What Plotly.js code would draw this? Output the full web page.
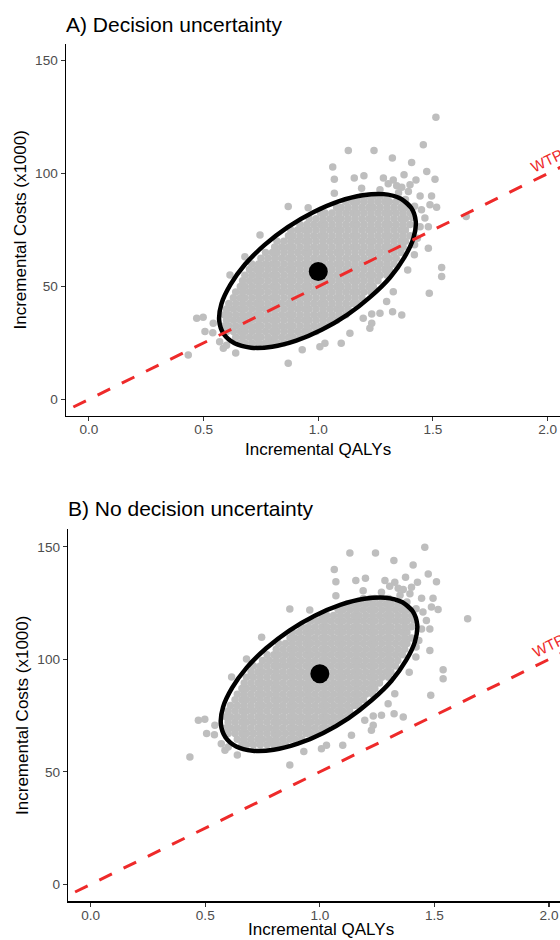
<!DOCTYPE html>
<html><head><meta charset="utf-8">
<script src="https://cdn.plot.ly/plotly-3.0.1.min.js"></script>
<style>html,body{margin:0;padding:0;overflow:hidden;background:#fff}#chart{width:578px;height:950px}</style>
</head><body><div id="chart"></div>
<script>
const panelTitles = ["A) Decision uncertainty", "B) No decision uncertainty"];
const xAxisTitle = "Incremental QALYs";
const yAxisTitle = "Incremental Costs (x1000)";
const xTickVals = [0, 0.5, 1, 1.5, 2];
const xTickText = ["0.0", "0.5", "1.0", "1.5", "2.0"];
const yTickVals = [0, 50, 100, 150];
const wtpLabel = "WTP";
const wtpLineQalys = [-0.068, 2.2];
const wtpLineCosts = [-3.4, 110.0];

// scattered simulations (outside the dense core)
const outlierQalysA = [1.513,1.458,1.131,1.243,1.323,1.063,1.407,1.473,1.070,1.199,1.157,1.284,1.327,1.374,1.342,1.426,1.509,1.070,1.189,1.269,1.393,1.444,1.494,1.487,1.516,0.869,0.956,1.465,1.444,1.480,0.746,1.432,1.480,1.419,0.680,1.390,1.538,1.538,0.615,1.484,1.327,1.298,1.269,1.233,1.233,1.196,1.324,1.364,0.470,0.498,0.506,0.542,0.433,0.869,0.586,1.007,1.029,1.100,0.789,1.138,1.225,1.305,1.364,1.400,1.645,1.42,1.45,1.41,1.38,1.35,1.42,0.54,0.57,0.60,0.64,0.93];
const outlierCostsA = [125.0,112.8,110.2,110.2,106.9,102.9,104.9,100.9,97.5,99.0,98.0,98.0,97.2,99.5,94.6,97.2,97.5,91.3,93.5,92.8,92.1,90.1,90.1,86.2,85.1,85.4,84.9,80.3,76.5,76.5,72.8,71.4,66.9,64.0,63.2,57.3,58.4,54.4,55.1,47.0,47.7,43.3,38.1,37.8,33.7,35.9,38.8,37.4,35.9,36.4,30.0,33.7,19.6,16.0,22.6,23.3,24.8,24.8,26.3,29.3,31.5,95.5,94.0,95.0,81.0,85.5,84.0,80.5,88.5,91.5,68.5,29.5,25.5,24.0,20.5,22.0];
const outlierQalysB = [1.458,1.131,1.243,1.323,1.063,1.407,1.473,1.070,1.199,1.157,1.284,1.327,1.374,1.342,1.426,1.509,1.070,1.189,1.269,1.393,1.444,1.494,1.487,1.516,0.869,0.956,1.465,1.444,1.480,0.746,1.432,1.480,1.419,0.680,1.390,1.538,1.538,0.615,1.484,1.327,1.298,1.269,1.233,1.233,1.196,1.324,1.364,0.470,0.498,0.506,0.542,0.433,0.869,0.586,1.007,1.029,1.100,0.789,1.138,1.225,1.305,1.364,1.400,1.645,1.42,1.45,1.41,1.38,1.35,1.42,0.54,0.57,0.60,0.64,0.93];
const outlierCostsB = [149.8,147.2,147.2,143.9,139.9,141.9,137.9,134.5,136.0,135.0,135.0,134.2,136.5,131.6,134.2,134.5,128.3,130.5,129.8,129.1,127.1,127.1,123.2,122.1,122.4,121.9,117.3,113.5,113.5,109.8,108.4,103.9,101.0,100.2,94.3,95.4,91.4,92.1,84.0,84.7,80.3,75.1,74.8,70.7,72.9,75.8,74.4,72.9,73.4,67.0,70.7,56.6,53.0,59.6,60.3,61.8,61.8,63.3,66.3,68.5,132.5,131.0,132.0,118.0,122.5,121.0,117.5,125.5,128.5,105.5,66.5,62.5,61.0,57.5,59.0];

// dense core of simulations, read row by row (QALY positions per cost row)
const coreRowQalys = [
[0.66,0.68,0.71,0.74,0.77,0.80,0.82,0.85],
[0.64,0.67,0.70,0.73,0.75,0.78,0.81,0.84,0.87,0.89,0.92],
[0.60,0.63,0.66,0.68,0.71,0.74,0.77,0.80,0.82,0.85,0.88,0.91,0.94,0.96,0.99],
[0.59,0.61,0.64,0.67,0.70,0.73,0.75,0.78,0.81,0.84,0.87,0.89,0.92,0.95,0.98,1.01,1.03],
[0.60,0.63,0.66,0.68,0.71,0.74,0.77,0.80,0.82,0.85,0.88,0.91,0.94,0.96,0.99,1.02,1.05,1.08],
[0.59,0.61,0.64,0.67,0.70,0.73,0.75,0.78,0.81,0.84,0.87,0.89,0.92,0.95,0.98,1.01,1.03,1.06,1.09,1.12],
[0.60,0.63,0.66,0.68,0.71,0.74,0.77,0.80,0.82,0.85,0.88,0.91,0.94,0.96,0.99,1.02,1.05,1.08,1.10,1.13],
[0.61,0.64,0.67,0.70,0.73,0.75,0.78,0.81,0.84,0.87,0.89,0.92,0.95,0.98,1.01,1.03,1.06,1.09,1.12,1.15,1.17],
[0.63,0.66,0.68,0.71,0.74,0.77,0.80,0.82,0.85,0.88,0.91,0.94,0.96,0.99,1.02,1.05,1.08,1.10,1.13,1.16,1.19],
[0.64,0.67,0.70,0.73,0.75,0.78,0.81,0.84,0.87,0.89,0.92,0.95,0.98,1.01,1.03,1.06,1.09,1.12,1.15,1.17,1.20,1.23],
[0.66,0.68,0.71,0.74,0.77,0.80,0.82,0.85,0.88,0.91,0.94,0.96,0.99,1.02,1.05,1.08,1.10,1.13,1.16,1.19,1.22,1.24],
[0.67,0.70,0.73,0.75,0.78,0.81,0.84,0.87,0.89,0.92,0.95,0.98,1.01,1.03,1.06,1.09,1.12,1.15,1.17,1.20,1.23,1.26],
[0.68,0.71,0.74,0.77,0.80,0.82,0.85,0.88,0.91,0.94,0.96,0.99,1.02,1.05,1.08,1.10,1.13,1.16,1.19,1.22,1.24,1.27,1.30],
[0.70,0.73,0.75,0.78,0.81,0.84,0.87,0.89,0.92,0.95,0.98,1.01,1.03,1.06,1.09,1.12,1.15,1.17,1.20,1.23,1.26,1.29,1.31],
[0.71,0.74,0.77,0.80,0.82,0.85,0.88,0.91,0.94,0.96,0.99,1.02,1.05,1.08,1.10,1.13,1.16,1.19,1.22,1.24,1.27,1.30,1.33],
[0.75,0.78,0.81,0.84,0.87,0.89,0.92,0.95,0.98,1.01,1.03,1.06,1.09,1.12,1.15,1.17,1.20,1.23,1.26,1.29,1.31,1.34],
[0.77,0.80,0.82,0.85,0.88,0.91,0.94,0.96,0.99,1.02,1.05,1.08,1.10,1.13,1.16,1.19,1.22,1.24,1.27,1.30,1.33,1.36],
[0.81,0.84,0.87,0.89,0.92,0.95,0.98,1.01,1.03,1.06,1.09,1.12,1.15,1.17,1.20,1.23,1.26,1.29,1.31,1.34,1.37],
[0.82,0.85,0.88,0.91,0.94,0.96,0.99,1.02,1.05,1.08,1.10,1.13,1.16,1.19,1.22,1.24,1.27,1.30,1.33,1.36,1.38],
[0.87,0.89,0.92,0.95,0.98,1.01,1.03,1.06,1.09,1.12,1.15,1.17,1.20,1.23,1.26,1.29,1.31,1.34,1.37,1.40],
[0.88,0.91,0.94,0.96,0.99,1.02,1.05,1.08,1.10,1.13,1.16,1.19,1.22,1.24,1.27,1.30,1.33,1.36,1.38],
[0.92,0.95,0.98,1.01,1.03,1.06,1.09,1.12,1.15,1.17,1.20,1.23,1.26,1.29,1.31,1.34,1.37,1.40],
[0.96,0.99,1.02,1.05,1.08,1.10,1.13,1.16,1.19,1.22,1.24,1.27,1.30,1.33,1.36,1.38],
[1.01,1.03,1.06,1.09,1.12,1.15,1.17,1.20,1.23,1.26,1.29,1.31,1.34,1.37,1.40],
[1.08,1.10,1.13,1.16,1.19,1.22,1.24,1.27,1.30,1.33,1.36,1.38],
[1.12,1.15,1.17,1.20,1.23,1.26,1.29,1.31,1.34,1.37],
[1.19,1.22,1.24,1.27,1.30]
];
const coreRowCostsA = [25,27.5,30,32.5,35,37.5,40,42.5,45,47.5,50,52.5,55,57.5,60,62.5,65,67.5,70,72.5,75,77.5,80,82.5,85,87.5,90];
const coreRowCostsB = [62,64.5,67,69.5,72,74.5,77,79.5,82,84.5,87,89.5,92,94.5,97,99.5,102,104.5,107,109.5,112,114.5,117,119.5,122,124.5,127];

// 95% ellipse outline points and mean
const ellipseQalysA = [1.405,1.358,1.286,1.194,1.089,0.978,0.867,0.766,0.680,0.617,0.578,0.568,0.588,0.635,0.707,0.799,0.904,1.015,1.126,1.227,1.313,1.376,1.415,1.425];
const ellipseCostsA = [84.9,89.0,90.9,90.4,87.7,82.9,76.3,68.4,59.7,50.8,42.4,34.9,28.9,24.8,22.9,23.3,26.0,30.8,37.4,45.4,54.0,63.0,71.4,78.9];
const ellipseQalysB = [1.405,1.358,1.286,1.194,1.089,0.978,0.867,0.766,0.680,0.617,0.578,0.568,0.588,0.635,0.707,0.799,0.904,1.015,1.126,1.227,1.313,1.376,1.415,1.425];
const ellipseCostsB = [121.4,125.5,127.4,126.9,124.2,119.4,112.8,104.9,96.2,87.3,78.9,71.4,65.4,61.3,59.4,59.8,62.5,67.3,73.9,81.9,90.5,99.5,107.9,115.4];
const meanQalys = [1.0, 1.0];
const meanCosts = [56.6, 93.6];

const FONT = '"Liberation Sans", Arial, sans-serif';
const GREY = '#BEBEBE';
const RED = '#EE2A2A';

function cloud(outQ, outC, rowCosts) {
  const xs = outQ.slice(), ys = outC.slice();
  coreRowQalys.forEach((row, i) => row.forEach(q => { xs.push(q); ys.push(rowCosts[i]); }));
  return {xs, ys};
}
function closeLoop(arr) { return arr.concat([arr[0], arr[1]]); }

const cA = cloud(outlierQalysA, outlierCostsA, coreRowCostsA);
const cB = cloud(outlierQalysB, outlierCostsB, coreRowCostsB);

function panelTraces(c, eQ, eC, mi, xa, ya) {
  return [
    {x: c.xs, y: c.ys, type: 'scatter', mode: 'markers', xaxis: xa, yaxis: ya,
     marker: {color: GREY, size: 7.5, line: {width: 0}}, hoverinfo: 'skip'},
    {x: closeLoop(eQ), y: closeLoop(eC), type: 'scatter', mode: 'lines', xaxis: xa, yaxis: ya,
     line: {color: '#000', width: 4.5, shape: 'spline', smoothing: 1}, hoverinfo: 'skip'},
    {x: [meanQalys[mi]], y: [meanCosts[mi]], type: 'scatter', mode: 'markers', xaxis: xa, yaxis: ya,
     marker: {color: '#000', size: 19}, hoverinfo: 'skip'},
    {x: wtpLineQalys, y: wtpLineCosts, type: 'scatter', mode: 'lines', xaxis: xa, yaxis: ya,
     line: {color: RED, width: 3, dash: '14px,13px'}, hoverinfo: 'skip'}
  ];
}

const data = panelTraces(cA, ellipseQalysA, ellipseCostsA, 0, 'x', 'y')
  .concat(panelTraces(cB, ellipseQalysB, ellipseCostsB, 1, 'x2', 'y2'));

function xAx(domain, range, anchor) {
  return {domain, range, anchor, showgrid: false, zeroline: false, showline: true,
    linecolor: '#000', linewidth: 1.5, ticks: 'outside', ticklen: 4, tickwidth: 1.1, tickcolor: '#333',
    tickvals: xTickVals, ticktext: xTickText, ticklabelstandoff: -3,
    tickfont: {family: FONT, size: 13.6, color: '#4D4D4D'}};
}
function yAx(domain, range, anchor) {
  return {domain, range, anchor, showgrid: false, zeroline: false, showline: true,
    linecolor: '#000', linewidth: 1.5, ticks: 'outside', ticklen: 4, tickwidth: 1.1, tickcolor: '#333',
    tickvals: yTickVals,
    tickfont: {family: FONT, size: 13.6, color: '#4D4D4D'},
    title: {text: yAxisTitle, font: {family: FONT, size: 17, color: '#000'}, standoff: 4}};
}

const titleFont = {family: FONT, size: 21, color: '#000'};
const axisTitleFont = {family: FONT, size: 17, color: '#000'};
const wtpFont = {family: FONT, size: 15, color: RED};

const layout = {
  width: 578, height: 950,
  margin: {l: 66, r: 5, t: 44, b: 49},
  paper_bgcolor: '#fff', plot_bgcolor: '#fff',
  showlegend: false,
  xaxis: xAx([0, 0.99606], [-0.100, 2.102], 'y'),
  yaxis: yAx([0.5664, 1], [-7.2, 157.4], 'x'),
  xaxis2: xAx([0.0045, 1], [-0.0977, 2.1047], 'y2'),
  yaxis2: yAx([0, 0.4335], [-7.4, 157.7], 'x2'),
  annotations: [
    {text: panelTitles[0], xref: 'paper', yref: 'paper', x: -0.004, y: 1.0231, xanchor: 'left', yanchor: 'middle',
     showarrow: false, font: titleFont},
    {text: panelTitles[1], xref: 'paper', yref: 'paper', x: 0.0, y: 0.4575, xanchor: 'left', yanchor: 'middle',
     showarrow: false, font: titleFont},
    {text: xAxisTitle, xref: 'paper', yref: 'paper', x: 0.498, y: 0.5274, xanchor: 'center', yanchor: 'middle',
     showarrow: false, font: axisTitleFont},
    {text: xAxisTitle, xref: 'paper', yref: 'paper', x: 0.5023, y: -0.0335, xanchor: 'center', yanchor: 'middle',
     showarrow: false, font: axisTitleFont},
    {text: wtpLabel, xref: 'x', yref: 'y', x: 1.997, y: 106.0, xanchor: 'center', yanchor: 'middle',
     textangle: -26.2, showarrow: false, font: wtpFont},
    {text: wtpLabel, xref: 'x2', yref: 'y2', x: 1.997, y: 106.0, xanchor: 'center', yanchor: 'middle',
     textangle: -26.2, showarrow: false, font: wtpFont}
  ]
};

Plotly.newPlot('chart', data, layout, {staticPlot: true, displayModeBar: false});
</script>
</body></html>
